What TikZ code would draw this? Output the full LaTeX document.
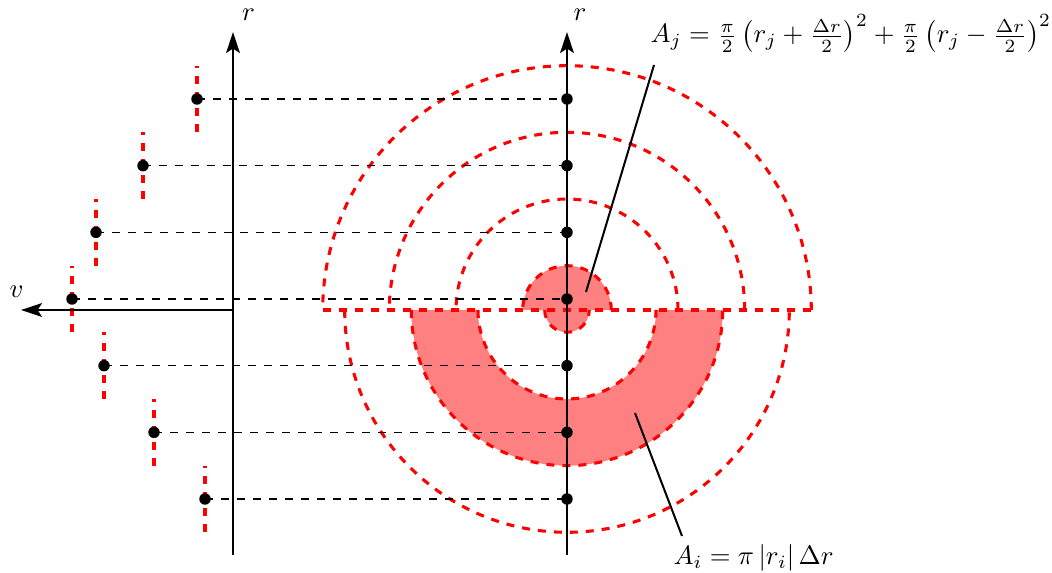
\documentclass[tikz,border=0pt]{standalone}
\usetikzlibrary{arrows.meta,calc}
\begin{document}
\begin{tikzpicture}[x=0.375pt,y=0.375pt,
  reddash/.style={red, line width=1.15pt, dashed},
  redfill/.style={fill=red!50},
  axisline/.style={line width=0.75pt, -{Stealth[length=7.9pt,width=5.2pt,inset=1.7pt]}},
  guide/.style={black, line width=0.6pt, dashed},
  dot/.style={circle, fill=black, inner sep=0pt, minimum size=4.3pt},
  callout/.style={line width=0.75pt},
  lbl/.style={inner sep=0pt}
]
\useasboundingbox (0,0) rectangle (1052,573);
\coordinate (C) at (567,263);
% filled regions
\fill[redfill] (611.3,263) arc[start angle=0,end angle=180,radius=44.3] -- (544.7,263) arc[start angle=180,end angle=360,radius=22.3] -- cycle;
\fill[redfill] (722.7,263) arc[start angle=0,end angle=-180,radius=155.7] -- (478,263) arc[start angle=180,end angle=360,radius=89] -- cycle;
% red dashed rings
\draw[reddash] (322.7,263) -- (811.3,263);
\foreach \R in {44.3,111,177.7,244.3}
  \draw[reddash] ($(C)+(\R,0)$) arc[start angle=0,end angle=180,radius=\R];
\foreach \R in {22.3,89,155.7,222.3}
  \draw[reddash] ($(C)+(-\R,0)$) arc[start angle=180,end angle=360,radius=\R];
% points
\foreach \i/\v in {1/197,2/143,3/96,4/72,5/104,6/154,7/205} {
  \pgfmathsetmacro\Y{474-66.667*(\i-1)}
  \coordinate (p\i) at (\v,\Y);
  \coordinate (q\i) at (567,\Y);
  \draw[reddash] ($(p\i)+(0,-33.3)$) -- ($(p\i)+(0,33.3)$);
}
% axes
\coordinate (lb) at (233,18);
\coordinate (lt) at (233,541);
\coordinate (rb) at (567,18);
\coordinate (rt) at (567,541);
\coordinate (vo) at (233,263);
\coordinate (vt) at (21,263);
\draw[axisline] (lb) -- (lt);
\draw[axisline] (rb) -- (rt);
\draw[axisline] (vo) -- (vt);
\node[lbl, anchor=base west] (rl) at (241.5,552) {$r$};
\node[lbl, anchor=base west] (rr) at (573,552) {$r$};
\node[lbl, anchor=base west] (vl) at (9,275) {$v$};
% guides and dots
\foreach \i in {1,...,7} {
  \draw[guide] (p\i) -- (q\i);
  \node[dot] (dp\i) at (p\i) {};
  \node[dot] (dq\i) at (q\i) {};
}
% callouts
\node[lbl, anchor=base west] (Aj) at (650,530) {$A_j = \frac{\pi}{2}\left(r_j+\frac{\Delta r}{2}\right)^2+\frac{\pi}{2}\left(r_j-\frac{\Delta r}{2}\right)^2$};
\node[lbl, anchor=base west] (Ai) at (673,8) {$A_i = \pi\left|r_i\right|\Delta r$};
\coordinate (ajf) at (586,281);
\coordinate (ajt) at (654,508);
\coordinate (aif) at (635,160);
\coordinate (ait) at (682,37);
\draw[callout] (ajf) -- (ajt);
\draw[callout] (aif) -- (ait);
\end{tikzpicture}
\end{document}
